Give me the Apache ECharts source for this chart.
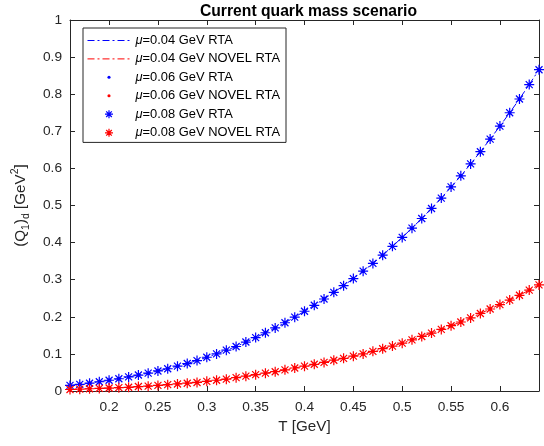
<!DOCTYPE html>
<html>
<head>
<meta charset="utf-8">
<script src="https://cdn.jsdelivr.net/npm/echarts@6/dist/echarts.min.js"></script>
<style>
html,body{margin:0;padding:0;background:#fff;}
#c{width:544px;height:446px;}
</style>
</head>
<body>
<div id="c"></div>
<script>
// ---- data ----
var temperatures = [0.16,0.17,0.18,0.19,0.20,0.21,0.22,0.23,0.24,0.25,0.26,0.27,0.28,0.29,0.30,0.31,0.32,0.33,0.34,0.35,0.36,0.37,0.38,0.39,0.40,0.41,0.42,0.43,0.44,0.45,0.46,0.47,0.48,0.49,0.50,0.51,0.52,0.53,0.54,0.55,0.56,0.57,0.58,0.59,0.60,0.61,0.62,0.63,0.64];
var rtaValues = [0.015,0.018,0.021,0.025,0.029,0.033,0.038,0.043,0.048,0.054,0.060,0.067,0.074,0.082,0.091,0.100,0.110,0.120,0.132,0.144,0.157,0.170,0.184,0.199,0.215,0.231,0.248,0.266,0.284,0.303,0.323,0.344,0.366,0.390,0.414,0.439,0.465,0.492,0.520,0.550,0.580,0.612,0.645,0.679,0.714,0.750,0.787,0.826,0.866];
var novelValues = [0.004,0.005,0.006,0.007,0.008,0.009,0.010,0.012,0.013,0.015,0.017,0.019,0.021,0.023,0.026,0.029,0.032,0.036,0.040,0.044,0.048,0.052,0.057,0.062,0.067,0.072,0.077,0.083,0.088,0.094,0.100,0.107,0.114,0.121,0.129,0.138,0.147,0.156,0.166,0.176,0.186,0.197,0.209,0.221,0.233,0.245,0.258,0.272,0.286];
var xTicks = [0.2,0.25,0.3,0.35,0.4,0.45,0.5,0.55,0.6];
var yTicks = [0,0.1,0.2,0.3,0.4,0.5,0.6,0.7,0.8,0.9,1];
var seriesNames = ['μ=0.04 GeV RTA','μ=0.04 GeV NOVEL RTA','μ=0.06 GeV RTA','μ=0.06 GeV NOVEL RTA','μ=0.08 GeV RTA','μ=0.08 GeV NOVEL RTA'];
var titleText = 'Current quark mass scenario';

// ---- build ----
var BLUE = '#0000ff', RED = '#ff0000', AX = '#262626';
function pairs(vals){ return temperatures.map(function(t,i){ return [t, vals[i]]; }); }
var FONT = 'Liberation Sans, Arial, Helvetica, sans-serif';
var asterisk = 'path://M0,-5L0,5M-5,0L5,0M-3.5,-3.5L3.5,3.5M-3.5,3.5L3.5,-3.5';
var asteriskIcon = 'path://M-6,-6M6,6M0,-4L0,4M-4,0L4,0M-2.8,-2.8L2.8,2.8M-2.8,2.8L2.8,-2.8';
var dotIcon = 'path://M-5,-5M5,5M0,-1.3A1.3,1.3,0,1,1,0,1.3A1.3,1.3,0,1,1,0,-1.3Z';
function fmt(v){ return String(+(+v).toFixed(2)); }

function lineSeries(name, vals, col){
  return {name:name, type:'line', data:pairs(vals), symbol:'none', showSymbol:false,
    lineStyle:{color:col, width:1, type:[7,3,2,3]}, itemStyle:{color:col}, animation:false, z:2,
    emphasis:{disabled:true}};
}
function dotSeries(name, vals, col){
  return {name:name, type:'scatter', data:pairs(vals), symbol:'circle', symbolSize:3.5,
    itemStyle:{color:col, opacity:1}, animation:false, z:3, emphasis:{disabled:true}};
}
function starSeries(name, vals, col){
  return {name:name, type:'scatter', data:pairs(vals), symbol:asterisk, symbolSize:10,
    itemStyle:{color:col, borderColor:col, borderWidth:1.2, opacity:1}, animation:false, z:4, emphasis:{disabled:true}};
}

var axisCommon = {
  axisLine:{show:true, onZero:false, lineStyle:{color:AX, width:1}},
  axisTick:{show:true, inside:true, length:5, lineStyle:{color:AX, width:1}},
  splitLine:{show:false}
};

var option = {
  backgroundColor:'#fff',
  animation:false,
  title:{text:titleText, left:303.5, textAlign:'center', top:-1,
    textStyle:{fontFamily:FONT, fontSize:15.7, fontWeight:'bold', color:'#000'}},
  grid:{left:70, right:5, top:20, bottom:55, containLabel:false},
  legend:{
    orient:'vertical', left:83, top:28,
    padding:[6,6,3,4], itemGap:5.4, itemWidth:43, itemHeight:12,
    borderColor:AX, borderWidth:1, backgroundColor:'#fff',
    selectedMode:false,
    lineStyle:{width:1},
    textStyle:{fontFamily:FONT, fontSize:12.9, color:'#000', lineHeight:12},
    formatter:function(n){ return n.replace('μ','{it|μ}'); },
    data:[
      {name:seriesNames[0], lineStyle:{width:1}, itemStyle:{color:'rgba(0,0,0,0)', opacity:0, borderWidth:0}},
      {name:seriesNames[1], lineStyle:{width:1}, itemStyle:{color:'rgba(0,0,0,0)', opacity:0, borderWidth:0}},
      {name:seriesNames[2], icon:dotIcon, itemStyle:{color:BLUE, borderWidth:0}},
      {name:seriesNames[3], icon:dotIcon, itemStyle:{color:RED, borderWidth:0}},
      {name:seriesNames[4], icon:asteriskIcon, itemStyle:{color:BLUE, borderColor:BLUE, borderWidth:1.2}},
      {name:seriesNames[5], icon:asteriskIcon, itemStyle:{color:RED, borderColor:RED, borderWidth:1.2}}
    ]
  },
  xAxis:[
    Object.assign({type:'value', min:0.16, max:0.64, position:'bottom',
      name:'T [GeV]', nameLocation:'middle', nameGap:23,
      nameTextStyle:{fontFamily:FONT, fontSize:15.2, color:AX},
      axisLabel:{show:true, customValues:xTicks, formatter:fmt, margin:9,
        fontFamily:FONT, fontSize:13.7, color:AX},
    }, axisCommon, {axisTick:{show:true, inside:true, length:5, customValues:xTicks, lineStyle:{color:AX, width:1}}}),
    Object.assign({type:'value', min:0.16, max:0.64, position:'top',
      axisLabel:{show:false, customValues:xTicks}
    }, axisCommon, {axisTick:{show:true, inside:true, length:5, customValues:xTicks, lineStyle:{color:AX, width:1}}})
  ],
  yAxis:[
    Object.assign({type:'value', min:0, max:1, position:'left',
      name:'(Q{sub|1}){sub|d} [GeV{sup|2}]', nameLocation:'middle', nameRotate:90, nameGap:31,
      nameTextStyle:{fontFamily:FONT, fontSize:15.2, color:AX, lineHeight:22,
        rich:{
          sub:{fontFamily:FONT, fontSize:10.5, color:AX, lineHeight:11, verticalAlign:'bottom'},
          sup:{fontFamily:FONT, fontSize:10.5, color:AX, lineHeight:11, verticalAlign:'top'}
        }},
      axisLabel:{show:true, customValues:yTicks, formatter:fmt, margin:8,
        fontFamily:FONT, fontSize:13.7, color:AX}
    }, axisCommon, {axisTick:{show:true, inside:true, length:5, customValues:yTicks, lineStyle:{color:AX, width:1}}}),
    Object.assign({type:'value', min:0, max:1, position:'right',
      axisLabel:{show:false, customValues:yTicks}
    }, axisCommon, {axisTick:{show:true, inside:true, length:5, customValues:yTicks, lineStyle:{color:AX, width:1}}})
  ],
  series:[
    lineSeries(seriesNames[0], rtaValues, BLUE),
    lineSeries(seriesNames[1], novelValues, RED),
    dotSeries(seriesNames[2], rtaValues, BLUE),
    dotSeries(seriesNames[3], novelValues, RED),
    starSeries(seriesNames[4], rtaValues, BLUE),
    starSeries(seriesNames[5], novelValues, RED)
  ]
};
option.legend.textStyle.rich = {it:{fontStyle:'italic', fontFamily:FONT, fontSize:12.9, color:'#000', lineHeight:12}};

var chart = echarts.init(document.getElementById('c'), null, {renderer:'canvas'});
chart.setOption(option);
</script>
</body>
</html>
